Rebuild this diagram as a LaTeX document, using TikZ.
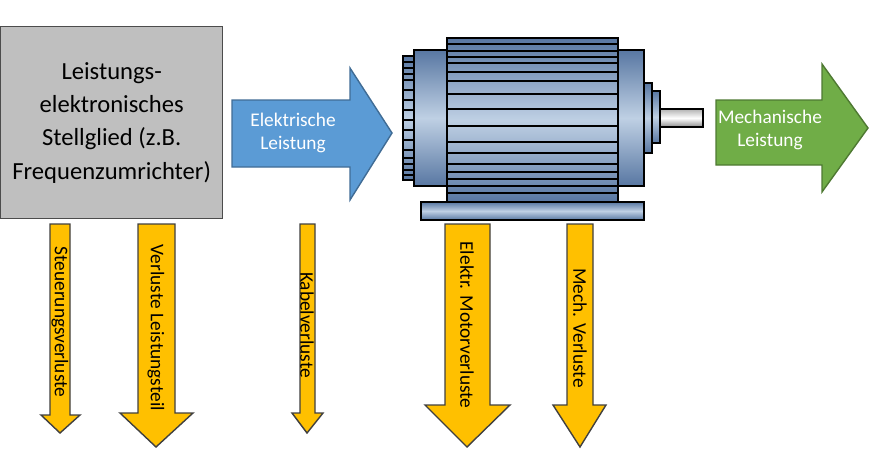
\documentclass[tikz,border=0pt]{standalone}
\usepackage{fontspec}
\setmainfont{Carlito}
\usetikzlibrary{shapes.arrows}

\definecolor{boxgray}{HTML}{BFBFBF}
\definecolor{elblue}{HTML}{5B9BD5}
\definecolor{mechgreen}{HTML}{70AD47}
\definecolor{lossyellow}{HTML}{FFC000}
\definecolor{motordark}{HTML}{5877A2}
\definecolor{motorlight}{HTML}{BFD0E4}

\tikzset{
  loss/.style={fill=lossyellow, draw=black!75, line width=0.8pt},
  motorpart/.style={draw=black, line width=0.9pt, top color=motordark, bottom color=motordark, middle color=motorlight},
  losstext/.style={rotate=-90, font=\fontsize{11}{12}\selectfont}
}

\begin{document}
\begin{tikzpicture}[x=0.02cm, y=-0.02cm]
    \useasboundingbox (0,0) rectangle (880,450);

    % Stellglied
    \node[draw=black!70, fill=boxgray, line width=0.8pt, minimum width=222*0.02cm, minimum height=192*0.02cm,
          align=center, font=\fontsize{14}{19}\selectfont, anchor=north west] (stellglied) at (0,26)
          {Leistungs-\\elektronisches\\Stellglied (z.B.\\Frequenzumrichter)};

    % Elektrische Leistung
    \draw[fill=elblue, draw=elblue!70!black, line width=0.8pt]
        (232,100) -- (350,100) -- (350,68) -- (392,133) -- (350,200) -- (350,167) -- (232,167) -- cycle;
    \node[text=white, align=center, font=\fontsize{11}{13}\selectfont] (elleistung) at (293,133) {Elektrische\\Leistung};

    % Mechanische Leistung
    \draw[fill=mechgreen, draw=mechgreen!70!black, line width=0.8pt]
        (716,100) -- (822,100) -- (822,64) -- (868,128) -- (822,192) -- (822,165) -- (716,165) -- cycle;
    \node[text=white, align=center, font=\fontsize{11}{13}\selectfont] (mechleistung) at (770,130) {Mechanische\\Leistung};

    % Motor
    \draw[motorpart] (421,202) rectangle (644,220);
    \draw[draw=black, line width=0.9pt, top color=black!30, bottom color=black!45, middle color=white] (660,109) rectangle (703,127);
    \draw[motorpart] (652,91) rectangle (660,143);
    \draw[motorpart] (644,83) rectangle (652,153);
    \draw[motorpart] (618,50) rectangle (644,186);
    \draw[motorpart] (403,56) rectangle (414,180);
    \foreach \y in {62,68,74,80,90,100,110,120,130,140,150,158,164,170,175}
        \draw[line width=0.8pt] (403,\y) -- (414,\y);
    \draw[motorpart] (414,50) rectangle (447,186);
    \draw[motorpart] (447,38) rectangle (618,202);
    \foreach \y in {44,51,57,63,72,81,94,109,126,142,153,164,172,179,186,193}
        \draw[line width=1pt] (447,\y) -- (618,\y);

    % Verluste
    \draw[loss] (50,224) -- (70,224) -- (70,415) -- (80,415) -- (60,433) -- (41,415) -- (50,415) -- cycle;
    \node[losstext] (steuerung) at (60,322) {Steuerungsverluste};

    \draw[loss] (138,224) -- (175,224) -- (175,413) -- (193,413) -- (156,447) -- (120,413) -- (138,413) -- cycle;
    \node[losstext] (leistungsteil) at (156,328) {Verluste Leistungsteil};

    \draw[loss] (300,224) -- (315,224) -- (315,413) -- (323,413) -- (307,433) -- (292,413) -- (300,413) -- cycle;
    \node[losstext] (kabel) at (307,325) {Kabelverluste};

    \draw[loss] (445,224) -- (490,224) -- (490,405) -- (510,405) -- (467,447) -- (425,405) -- (445,405) -- cycle;
    \node[losstext] (motorverl) at (467,325) {Elektr. Motorverluste};

    \draw[loss] (567,224) -- (593,224) -- (593,405) -- (606,405) -- (580,447) -- (553,405) -- (567,405) -- cycle;
    \node[losstext] (mechverl) at (580,328) {Mech. Verluste};
\end{tikzpicture}
\end{document}
